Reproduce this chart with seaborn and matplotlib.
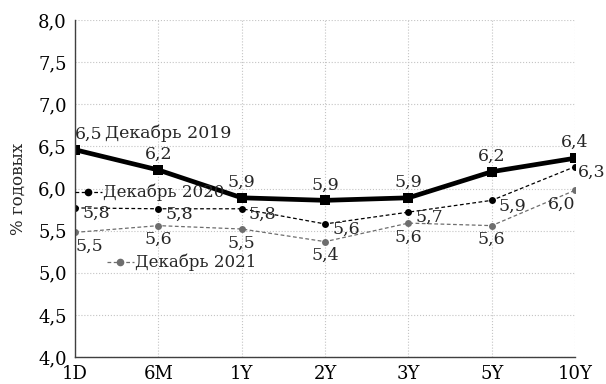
import pandas as pd
import seaborn as sns
import matplotlib.pyplot as plt
from matplotlib.lines import Line2D

terms = ['1D', '6M', '1Y', '2Y', '3Y', '5Y', '10Y']
dec2019 = [6.46, 6.22, 5.89, 5.86, 5.89, 6.20, 6.36]
dec2020 = [5.77, 5.76, 5.76, 5.58, 5.72, 5.86, 6.26]
dec2021 = [5.48, 5.56, 5.52, 5.37, 5.59, 5.56, 5.98]
names = ['Декабрь 2019', 'Декабрь 2020', 'Декабрь 2021']
y_ticks = [4.0, 4.5, 5.0, 5.5, 6.0, 6.5, 7.0, 7.5, 8.0]


def fmt(v):
    return f"{v:.1f}".replace('.', ',')


sns.set_style('white')
plt.rcParams['font.family'] = ['DejaVu Serif']

df = pd.DataFrame({'term': terms * 3,
                   'rate': dec2019 + dec2020 + dec2021,
                   'series': [names[0]] * 7 + [names[1]] * 7 + [names[2]] * 7})

fig, ax = plt.subplots(figsize=(6.06, 3.84), dpi=100)
fig.subplots_adjust(left=0.124, right=0.949, top=0.948, bottom=0.07)

sns.lineplot(data=df[df.series == names[0]], x='term', y='rate', color='black',
             linewidth=3.4, marker='s', markersize=6.5, markeredgewidth=0, ax=ax, sort=False)
sns.lineplot(data=df[df.series == names[1]], x='term', y='rate', color='black',
             linewidth=0.9, linestyle=(0, (3, 2)), marker='o', markersize=5,
             markeredgewidth=0, ax=ax, sort=False)
sns.lineplot(data=df[df.series == names[2]], x='term', y='rate', color='#6e6e6e',
             linewidth=0.9, linestyle=(0, (3, 2)), marker='o', markersize=5,
             markeredgewidth=0, ax=ax, sort=False)

ax.set_xlim(0, 6)
ax.set_ylim(4.0, 8.0)
ax.set_yticks(y_ticks)
ax.set_yticklabels([fmt(t) for t in y_ticks])
ax.set_xlabel('')
ax.set_ylabel('% годовых', fontsize=12, labelpad=8)
ax.grid(True, color='#c4c4c4', linestyle=':', linewidth=0.8)
for s in ['top', 'right']:
    ax.spines[s].set_visible(False)
for s in ['left', 'bottom']:
    ax.spines[s].set_color('#404040')
    ax.spines[s].set_linewidth(1.0)
ax.tick_params(axis='both', direction='out', length=4, color='#404040',
               labelsize=13, labelcolor='black', pad=2)

# data labels
for i, v in enumerate(dec2019):
    ax.annotate(fmt(v), (i, v), xytext=(0, 5), textcoords='offset points',
                ha='left' if i == 0 else 'center', va='bottom', fontsize=12.5)
for i, v in enumerate(dec2020):
    dx = 2 if i == len(terms) - 1 else 5
    ax.annotate(fmt(v), (i, v), xytext=(dx, -4), textcoords='offset points',
                ha='left', va='center', fontsize=12.5)
for i, v in enumerate(dec2021):
    ha = 'left' if i == 0 else ('right' if i == len(terms) - 1 else 'center')
    ax.annotate(fmt(v), (i, v), xytext=(0, -4), textcoords='offset points',
                ha=ha, va='top', fontsize=12.5)

# series names
ax.text(0.06, 0.665, names[0], transform=ax.transAxes, ha='left', va='center', fontsize=12.5)
h2 = Line2D([], [], color='black', linewidth=0.9, linestyle=(0, (3, 2)), marker='o', markersize=4.5)
h3 = Line2D([], [], color='#6e6e6e', linewidth=0.9, linestyle=(0, (3, 2)), marker='o', markersize=4.5)
leg2 = ax.legend([h2], [names[1]], loc='center left', bbox_to_anchor=(0.0, 0.488),
                 frameon=False, handlelength=1.6, handletextpad=0.1, borderpad=0,
                 borderaxespad=0, fontsize=12, numpoints=1)
ax.add_artist(leg2)
ax.legend([h3], [names[2]], loc='center left', bbox_to_anchor=(0.064, 0.28),
          frameon=False, handlelength=1.6, handletextpad=0.1, borderpad=0,
          borderaxespad=0, fontsize=12, numpoints=1)

fig.savefig('out.png', dpi=100)
